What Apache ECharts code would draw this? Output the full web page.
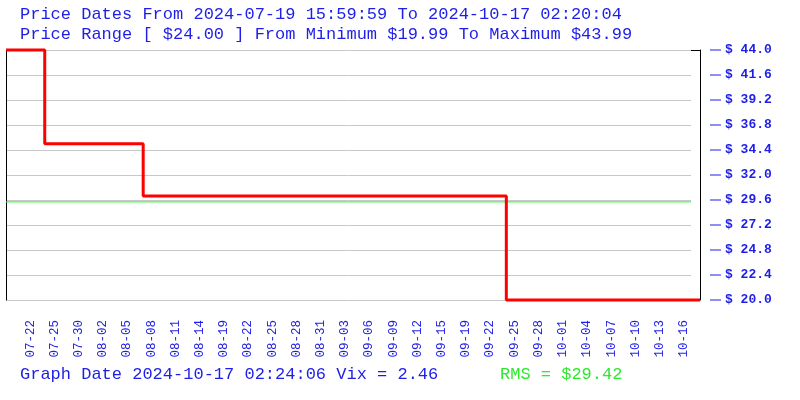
<!DOCTYPE html>
<html>
<head>
<meta charset="utf-8">
<script src="https://cdn.jsdelivr.net/npm/echarts@6/dist/echarts.min.js"></script>
<style>
html,body{margin:0;padding:0;background:#fff;}
#c{width:800px;height:400px;}
</style>
</head>
<body>
<div id="c"></div>
<script>
// Tick labels on the x axis (one every 3 samples, starting at sample 3)
const xTickLabels = ['07-22','07-25','07-30','08-02','08-05','08-08','08-11','08-14','08-19','08-22','08-25','08-28','08-31','09-03','09-06','09-09','09-12','09-15','09-19','09-22','09-25','09-28','10-01','10-04','10-07','10-10','10-13','10-16'];
// Sample positions where the price changes, and the price held from each
const stepX = [0, 4.8, 17, 62, 86];
const stepPrice = [43.99, 34.99, 29.99, 19.99, 19.99];
const rmsValue = 29.42;
const yMin = 20, yMax = 44, yInterval = 2.4;
const xMax = 86;

const titleLine1 = 'Price Dates From 2024-07-19 15:59:59 To 2024-10-17 02:20:04';
const titleLine2 = 'Price Range [ $24.00 ] From Minimum $19.99 To Maximum $43.99';
const footerText = 'Graph Date 2024-10-17 02:24:06 Vix = 2.46';
const rmsText = 'RMS = $29.42';

const BLUE = '#1e1ee8';
const GREEN = '#2ee82e';
const LINE_GREEN = '#22f022';
const FONT = "'Liberation Mono', 'DejaVu Sans Mono', monospace";

const priceData = stepX.map((x, i) => [x, stepPrice[i]]);

const chart = echarts.init(document.getElementById('c'), null, {renderer: 'canvas'});
chart.setOption({
  animation: false,
  backgroundColor: '#ffffff',
  title: [
    {text: titleLine1, left: 20, top: 6, padding: 0, textStyle: {fontFamily: FONT, fontSize: 17, fontWeight: 'normal', color: BLUE}},
    {text: titleLine2, left: 20, top: 26, padding: 0, textStyle: {fontFamily: FONT, fontSize: 17, fontWeight: 'normal', color: BLUE}},
    {text: footerText, left: 20, top: 366, padding: 0, textStyle: {fontFamily: FONT, fontSize: 17, fontWeight: 'normal', color: BLUE}},
    {text: rmsText, left: 500, top: 366, padding: 0, textStyle: {fontFamily: FONT, fontSize: 17, fontWeight: 'normal', color: GREEN}}
  ],
  grid: [
    {left: 6, right: 100, top: 50, bottom: 100},
    {left: 6, right: 109, top: 50, bottom: 100}
  ],
  xAxis: [
    {
      type: 'value', gridIndex: 0, min: 0, max: xMax, interval: 3,
      axisLine: {show: false, onZero: false}, axisTick: {show: false}, splitLine: {show: false},
      axisLabel: {
        rotate: 90, margin: 20, color: BLUE, fontFamily: FONT, fontSize: 12.5,
        showMinLabel: true, showMaxLabel: true,
        formatter: function (v) {
          const idx = Math.round((v - 3) / 3);
          if (Math.abs(v - (3 + idx * 3)) > 1e-6) return '';
          return xTickLabels[idx] || '';
        }
      }
    },
    {type: 'value', gridIndex: 1, min: 0, max: 1, show: false}
  ],
  yAxis: [
    {
      type: 'value', gridIndex: 0, position: 'right', min: yMin, max: yMax, interval: yInterval,
      axisLine: {show: true, onZero: false, lineStyle: {color: '#000', width: 1}},
      axisTick: {show: true, inside: true, length: 9, customValues: [yMin, yMax], lineStyle: {color: '#000', width: 1}},
      splitLine: {show: false},
      axisLabel: {
        margin: 10,
        formatter: function (v) { return '{d|}{t|$ ' + v.toFixed(1) + '}'; },
        rich: {
          d: {width: 11, height: 1, backgroundColor: BLUE},
          t: {color: BLUE, fontFamily: FONT, fontSize: 13, fontWeight: 'bold', padding: [0, 0, 0, 4]}
        }
      }
    },
    {
      type: 'value', gridIndex: 0, position: 'left', min: yMin, max: yMax, interval: yInterval,
      axisLine: {show: true, onZero: false, lineStyle: {color: '#000', width: 1}},
      axisTick: {show: false}, axisLabel: {show: false}, splitLine: {show: false}
    },
    {
      type: 'value', gridIndex: 1, position: 'left', min: yMin, max: yMax, interval: yInterval,
      axisLine: {show: false, onZero: false}, axisTick: {show: false}, axisLabel: {show: false},
      splitLine: {show: true, lineStyle: {color: '#c8c8c8', width: 1}}
    }
  ],
  series: [
    {
      type: 'line', xAxisIndex: 1, yAxisIndex: 2,
      data: [[0, rmsValue], [1, rmsValue]],
      symbol: 'none', silent: true,
      lineStyle: {color: LINE_GREEN, width: 1}, z: 2
    },
    {
      type: 'line', xAxisIndex: 0, yAxisIndex: 0,
      data: priceData, step: 'end', symbol: 'none', clip: false,
      lineStyle: {color: '#ff0000', width: 3}, z: 3
    }
  ]
});
</script>
</body>
</html>
